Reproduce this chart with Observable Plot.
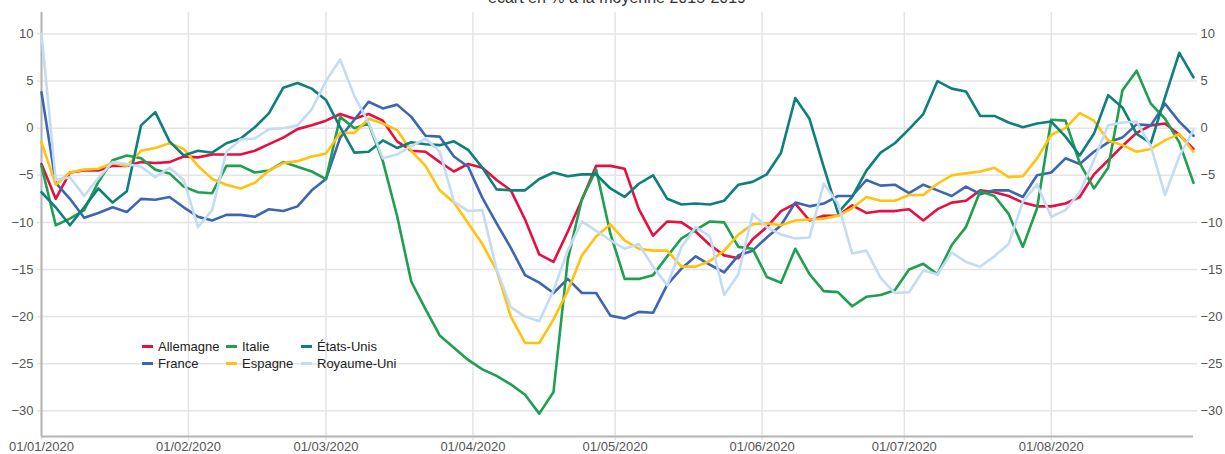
<!DOCTYPE html>
<html><head><meta charset="utf-8">
<script src="https://cdn.jsdelivr.net/npm/d3@7"></script>
<script src="https://cdn.jsdelivr.net/npm/@observablehq/plot@0.6"></script>
<style>
body{margin:0;background:#fff;font-family:"Liberation Sans",Arial,sans-serif;}
#wrap{position:relative;width:1225px;height:454px;overflow:hidden;}
#sub{position:absolute;top:-10px;left:41px;width:1152px;text-align:center;font-size:16px;line-height:16px;color:#333;}
#legend{position:absolute;left:142px;top:338px;display:grid;grid-template-columns:84px 75px auto;grid-auto-flow:column;grid-template-rows:17px 17px;font-size:13px;color:#222;}
.item{display:flex;align-items:center;white-space:nowrap;height:17px}
.sw{display:inline-block;width:11px;height:3px;margin-right:5px}
</style></head>
<body><div id="wrap"><div id="chart"></div><div id="sub">écart en % à la moyenne 2015-2019</div><div id="legend"></div></div>
<script>
// Series sampled every 3 days from 01/01/2020 to 31/08/2020
const startDate = new Date(Date.UTC(2020, 0, 1));
const endDate = new Date(Date.UTC(2020, 7, 31));
const dayOffsets = d3.range(0, 244, 3);
const dates = dayOffsets.map(d => new Date(Date.UTC(2020, 0, 1 + d)));

const pays = ["Allemagne", "France", "Italie", "Espagne", "États-Unis", "Royaume-Uni"];
const couleurs = ["#e5103f", "#3d65b0", "#1f9f4f", "#ffc20e", "#0e7f7b", "#c4dcf3"];

const allemagne = [
 -3.8,-7.5,-4.7,-4.5,-4.5,-4.0,-4.0,-3.6,-3.7,-3.6,
 -3.0,-3.1,-2.8,-2.8,-2.8,-2.4,-1.7,-1.0,-0.1,0.3,
 0.8,1.5,1.0,1.5,0.8,-1.4,-2.4,-2.5,-3.6,-4.6,
 -3.8,-4.2,-5.5,-6.6,-9.7,-13.4,-14.2,-11.0,-7.6,-4.0,
 -4.0,-4.3,-8.6,-11.4,-9.9,-10.0,-11.0,-12.4,-13.5,-13.8,
 -11.8,-10.5,-8.8,-8.0,-9.8,-9.3,-9.3,-8.2,-9.0,-8.8,
 -8.8,-8.6,-9.8,-8.6,-7.9,-7.7,-6.6,-6.8,-7.2,-7.9,
 -8.3,-8.3,-8.0,-7.3,-4.9,-3.4,-1.9,-0.5,0.3,0.5,
 -0.7,-2.2];
const france = [
 3.8,-5.8,-7.5,-9.5,-9.0,-8.4,-8.9,-7.5,-7.6,-7.3,
 -8.4,-9.4,-9.8,-9.2,-9.2,-9.4,-8.6,-8.8,-8.3,-6.6,
 -5.4,-1.0,0.9,2.8,2.1,2.5,1.2,-0.8,-0.9,-3.0,
 -4.1,-7.4,-10.1,-12.7,-15.6,-16.4,-17.5,-16.0,-17.5,-17.5,
 -19.9,-20.2,-19.5,-19.6,-16.6,-14.9,-13.6,-14.5,-15.3,-13.5,
 -13.0,-11.6,-10.3,-7.9,-8.3,-8.0,-7.2,-7.2,-5.5,-6.1,
 -6.0,-6.9,-6.0,-6.6,-7.2,-6.2,-7.0,-6.6,-6.6,-7.3,
 -5.0,-4.7,-3.2,-3.8,-2.5,-1.5,-1.0,0.4,0.3,2.6,
 0.7,-0.8];
const italie = [
 -4.0,-10.3,-9.6,-8.7,-5.7,-3.4,-2.9,-3.2,-4.4,-4.8,
 -6.2,-6.8,-6.9,-4.0,-4.0,-4.7,-4.5,-3.6,-4.1,-4.6,
 -5.4,1.2,0.0,0.5,-3.5,-9.3,-16.3,-19.2,-22.0,-23.3,
 -24.6,-25.6,-26.3,-27.2,-28.3,-30.3,-28.0,-14.0,-7.5,-4.4,
 -11.2,-16.0,-16.0,-15.6,-13.6,-11.7,-10.8,-9.9,-10.0,-12.6,
 -12.8,-15.8,-16.4,-12.8,-15.5,-17.3,-17.4,-18.9,-17.9,-17.7,
 -17.2,-15.0,-14.4,-15.5,-12.4,-10.5,-6.7,-7.2,-9.1,-12.6,
 -8.5,0.9,0.8,-3.7,-6.4,-4.2,4.0,6.1,2.6,1.0,
 -1.5,-5.8];
const espagne = [
 -1.5,-6.0,-4.7,-4.4,-4.3,-3.7,-4.0,-2.4,-2.1,-1.6,
 -2.2,-4.0,-5.4,-6.0,-6.4,-5.8,-4.5,-3.7,-3.5,-3.0,
 -2.7,-0.5,-0.5,1.0,0.5,-0.2,-2.4,-4.0,-6.6,-7.9,
 -10.1,-12.3,-15.1,-20.0,-22.8,-22.8,-20.3,-17.3,-13.5,-11.5,
 -10.2,-11.9,-12.8,-13.0,-13.0,-14.7,-14.7,-14.1,-13.0,-11.3,
 -10.2,-10.1,-10.3,-9.8,-9.7,-9.6,-9.3,-8.5,-7.3,-7.7,
 -7.7,-7.1,-7.1,-5.9,-5.0,-4.8,-4.6,-4.2,-5.2,-5.1,
 -3.2,-0.7,0.0,1.6,0.8,-1.3,-1.8,-2.5,-2.2,-1.3,
 -0.6,-2.5];
const etatsUnis = [
 -6.8,-8.4,-10.3,-8.4,-6.4,-7.9,-6.7,0.3,1.7,-1.4,
 -2.9,-2.4,-2.6,-1.6,-1.1,0.1,1.6,4.3,4.8,4.2,
 3.0,0.1,-2.6,-2.5,-1.3,-2.1,-1.5,-1.7,-1.8,-1.4,
 -2.3,-4.2,-6.5,-6.6,-6.6,-5.4,-4.7,-5.1,-4.9,-4.9,
 -6.4,-7.3,-5.9,-5.0,-7.5,-8.1,-8.0,-8.1,-7.7,-6.0,
 -5.7,-4.9,-2.6,3.2,1.0,-4.1,-9.0,-7.3,-4.5,-2.6,
 -1.6,-0.1,1.5,5.0,4.2,3.9,1.3,1.3,0.6,0.1,
 0.5,0.7,-0.9,-2.9,-0.6,3.5,2.2,-0.6,-1.6,3.3,
 8.0,5.4];
const royaumeUni = [
 10.0,-5.5,-5.2,-7.2,-5.3,-3.6,-3.8,-4.1,-5.2,-4.2,
 -5.5,-10.5,-8.7,-2.5,-1.2,-1.1,-0.1,0.0,0.3,2.0,
 5.0,7.3,3.4,0.6,-3.2,-2.8,-1.9,-1.1,-2.5,-7.8,
 -8.8,-8.7,-15.0,-19.0,-20.0,-20.5,-17.2,-13.0,-9.9,-10.9,
 -11.9,-12.8,-12.3,-14.7,-16.7,-12.6,-10.5,-11.5,-17.7,-15.5,
 -9.1,-10.5,-11.3,-11.7,-11.6,-5.9,-8.0,-13.3,-13.0,-15.9,
 -17.5,-17.4,-15.1,-15.5,-13.2,-14.2,-14.7,-13.6,-12.3,-7.8,
 -6.0,-9.4,-8.7,-6.8,-3.4,0.3,0.6,0.7,-1.9,-7.1,
 -3.0,-0.2];

const yTicks = [10, 5, 0, -5, -10, -15, -20, -25, -30];
const monthTicks = d3.utcMonths(startDate, endDate);
const yMin = -32.73, yMax = 12.28;

const seriesValues = [allemagne, france, italie, espagne, etatsUnis, royaumeUni];
const data = pays.flatMap((p, k) => dates.map((date, i) => ({pays: p, date, value: seriesValues[k][i]})));

const chart = Plot.plot({
  width: 1225, height: 454,
  marginTop: 12, marginBottom: 18, marginLeft: 41, marginRight: 32,
  x: {type: "utc", domain: [startDate, endDate], label: null},
  y: {domain: [yMin, yMax], label: null},
  color: {domain: pays, range: couleurs},
  style: {fontFamily: "'Liberation Sans', Arial, sans-serif", fontSize: "13px", color: "#555", background: "white", overflow: "visible"},
  marks: [
    Plot.ruleY(yTicks, {stroke: "#e4e4e4", strokeWidth: 1.5, insetLeft: -4, insetRight: -4}),
    Plot.ruleX(monthTicks, {stroke: "#e4e4e4", strokeWidth: 1.5, insetBottom: -4}),
    Plot.ruleX([startDate], {stroke: "#b4b4b4", strokeWidth: 2}),
    Plot.ruleY([yMin], {stroke: "#b4b4b4", strokeWidth: 2}),
    Plot.axisY(yTicks, {anchor: "left", tickSize: 0, tickPadding: 8, fontSize: 13, label: null}),
    Plot.axisY(yTicks, {anchor: "right", tickSize: 0, tickPadding: 7, fontSize: 13, label: null}),
    Plot.axisX(monthTicks, {anchor: "bottom", tickSize: 0, tickPadding: 5, fontSize: 13, label: null, tickFormat: d3.utcFormat("%d/%m/%Y")}),
    Plot.line(data, {x: "date", y: "value", z: "pays", stroke: "pays", strokeWidth: 2.6})
  ]
});
document.getElementById("chart").appendChild(chart);

const legend = document.getElementById("legend");
pays.forEach((p, k) => {
  const it = document.createElement("div");
  it.className = "item";
  it.innerHTML = `<span class="sw" style="background:${couleurs[k]}"></span><span>${p}</span>`;
  legend.appendChild(it);
});
</script></body></html>
